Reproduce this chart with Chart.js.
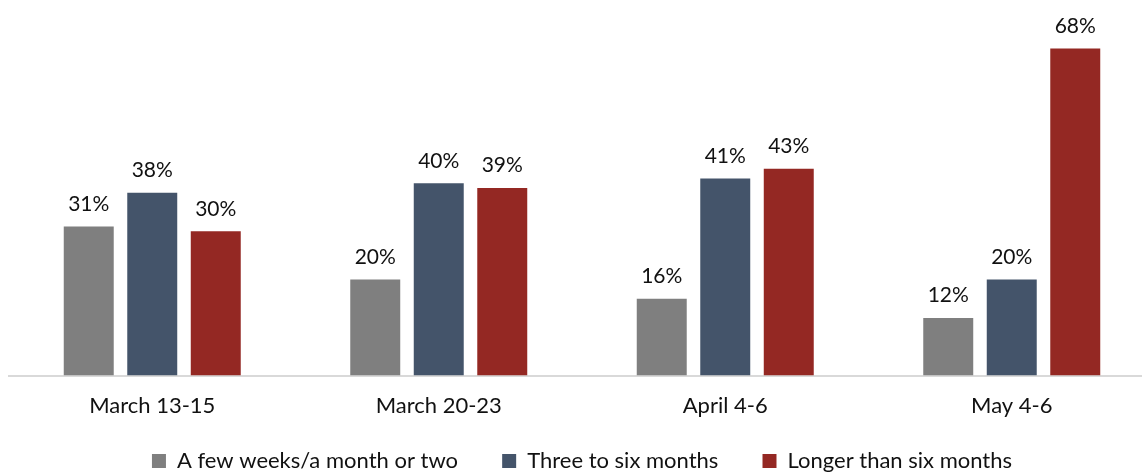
<!DOCTYPE html>
<html>
<head>
<meta charset="utf-8">
<script src="https://cdn.jsdelivr.net/npm/chart.js@4/dist/chart.umd.min.js"></script>
<style>
  html, body { margin: 0; padding: 0; background: #fff; overflow: hidden; }
  #wrap { width: 1155px; height: 472px; }
</style>
</head>
<body>
<div id="wrap"><canvas id="grafico"></canvas></div>
<script>
const periodos = ['March 13-15', 'March 20-23', 'April 4-6', 'May 4-6'];
const pocasSemanas = [31, 20, 16, 12];
const tresASeis = [38, 40, 41, 20];
const masDeSeis = [30, 39, 43, 68];

const fuente = 'Lato, "Open Sans", sans-serif';

// etiquetas de porcentaje encima de cada barra
const etiquetas = {
  id: 'etiquetas',
  afterDatasetsDraw(chart) {
    const ctx = chart.ctx;
    ctx.save();
    ctx.font = '21px ' + fuente;
    ctx.fillStyle = '#111';
    ctx.textAlign = 'center';
    ctx.textBaseline = 'bottom';
    chart.data.datasets.forEach((ds, i) => {
      chart.getDatasetMeta(i).data.forEach((bar, j) => {
        ctx.fillText(ds.data[j] + '%', bar.x, bar.y - 12);
      });
    });
    ctx.restore();
  }
};

new Chart(document.getElementById('grafico'), {
  type: 'bar',
  data: {
    labels: periodos,
    datasets: [
      { label: 'A few weeks/a month or two', data: pocasSemanas, backgroundColor: '#7f7f7f' },
      { label: 'Three to six months', data: tresASeis, backgroundColor: '#44546a' },
      { label: 'Longer than six months', data: masDeSeis, backgroundColor: '#942823' }
    ]
  },
  options: {
    responsive: true,
    maintainAspectRatio: false,
    animation: false,
    datasets: { bar: { categoryPercentage: 0.665, barPercentage: 0.787 } },
    layout: { padding: { top: 39, left: 9, right: 0, bottom: -10 } },
    plugins: {
      legend: {
        position: 'bottom',
        labels: {
          boxWidth: 14, boxHeight: 14, padding: 22,
          color: '#111',
          font: { family: fuente, size: 22 },
          // un poco más de hueco entre elementos de la leyenda
          generateLabels(chart) {
            const items = Chart.defaults.plugins.legend.labels.generateLabels(chart);
            items.forEach((it, i) => { if (i < items.length - 1) it.text += '\u2003 '; });
            return items;
          }
        }
      },
      tooltip: { enabled: false }
    },
    scales: {
      x: {
        grid: { display: false },
        border: { color: '#d9d9d9', width: 2 },
        ticks: { color: '#111', padding: 9, font: { family: fuente, size: 22 } }
      },
      y: { display: false, min: 0, max: 70 }
    }
  },
  plugins: [etiquetas]
});
</script>
</body>
</html>
